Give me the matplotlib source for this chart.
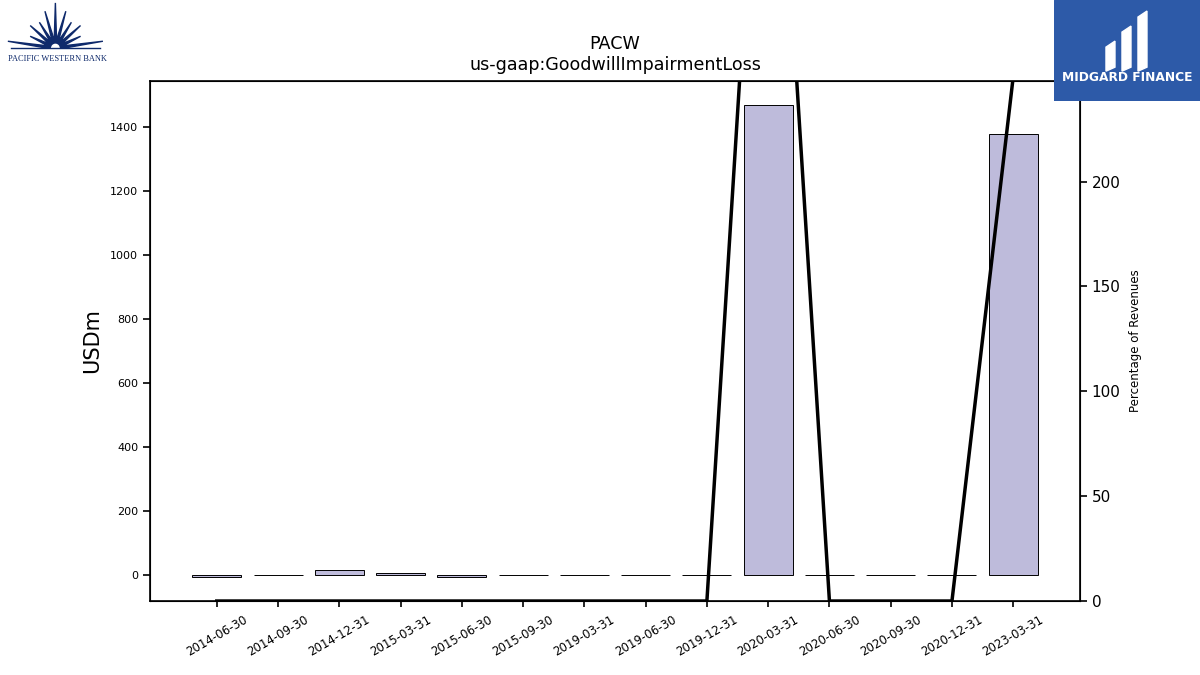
import matplotlib
matplotlib.use('Agg')
import matplotlib.pyplot as plt
import numpy as np
from matplotlib.patches import Polygon, Rectangle, Wedge

dates = ['2014-06-30', '2014-09-30', '2014-12-31', '2015-03-31', '2015-06-30',
         '2015-09-30', '2019-03-31', '2019-06-30', '2019-12-31', '2020-03-31',
         '2020-06-30', '2020-09-30', '2020-12-31', '2023-03-31']
loss = [-7, 0, 15, 8, -6, 0, 0, 0, 0, 1469, 0, 0, 0, 1378]
pct_rev = [0, 0, 0, 0, 0, 0, 0, 0, 0, 465, 0, 0, 0, 250]

fig = plt.figure(figsize=(12, 6.75), dpi=100)
ax = fig.add_axes([0.125, 0.1096, 0.775, 0.7704])
x = np.arange(len(dates))
ax.bar(x, loss, width=0.8, color='#bebbdb', edgecolor='black', linewidth=0.7)
ax.set_xticks(x)
ax.set_xticklabels(dates, rotation=30, fontsize=8.5)
ax.tick_params(axis='x', length=4.3, width=1.2, pad=4.5)
ax.tick_params(axis='y', labelsize=8, length=5, width=1.2)
ax.set_ylabel('USDm', fontsize=15, labelpad=6)
ax.set_title('PACW\nus-gaap:GoodwillImpairmentLoss', fontsize=12.6, pad=8)
for s in ax.spines.values():
    s.set_linewidth(1.2)

ax2 = ax.twinx()
ax2.plot(x, pct_rev, color='black', linewidth=2.5)
ax2.set_ylim(0, 248)
ax2.set_ylabel('Percentage of Revenues', fontsize=8.5, labelpad=6)
ax2.tick_params(axis='y', labelsize=11, length=5, width=1.2)

# Pacific Western Bank logo
lg = fig.add_axes([0.0, 0.9, 0.1, 0.1])
lg.set_xlim(0, 130)
lg.set_ylim(0, 70)
lg.axis('off')
navy = '#0f2a6b'
cx, cy = 60, 20
rays = [52, 30, 36, 32, 40, 47, 40, 32, 36, 30, 52]
for ang, ln in zip(np.linspace(8, 172, 11), rays):
    a = np.deg2rad(ang)
    w = np.deg2rad(8)
    pts = [(cx + 9 * np.cos(a - w), cy + 9 * np.sin(a - w)),
           (cx + ln * np.cos(a), cy + ln * np.sin(a)),
           (cx + 9 * np.cos(a + w), cy + 9 * np.sin(a + w))]
    lg.add_patch(Polygon(pts, color=navy))
lg.add_patch(Wedge((cx, cy), 12, 0, 180, color=navy))
lg.add_patch(Wedge((cx, cy), 4, 0, 180, color='white'))
lg.plot([12, 108], [cy, cy], color=navy, linewidth=1)
lg.text(62, 9, 'PACIFIC WESTERN BANK', fontsize=6, family='Liberation Serif',
        color=navy, ha='center', va='center')

# Midgard Finance logo
mg = fig.add_axes([0.8783, 0.85, 0.1217, 0.15])
mg.set_xlim(0, 146)
mg.set_ylim(0, 101)
mg.add_patch(Rectangle((0, 0), 146, 101, color='#2d5aa8'))
mg.axis('off')
for x0, y0, h in [(52, 30, 30), (68, 30, 45), (84, 30, 60)]:
    mg.add_patch(Polygon([(x0, y0), (x0 + 9, y0 + 4), (x0 + 9, y0 + h), (x0, y0 + h - 6)],
                         color='white'))
mg.text(73, 24, 'MIDGARD FINANCE', color='white', fontsize=8.8, fontweight='bold',
        ha='center', va='center')

plt.savefig('out.png', dpi=100)
